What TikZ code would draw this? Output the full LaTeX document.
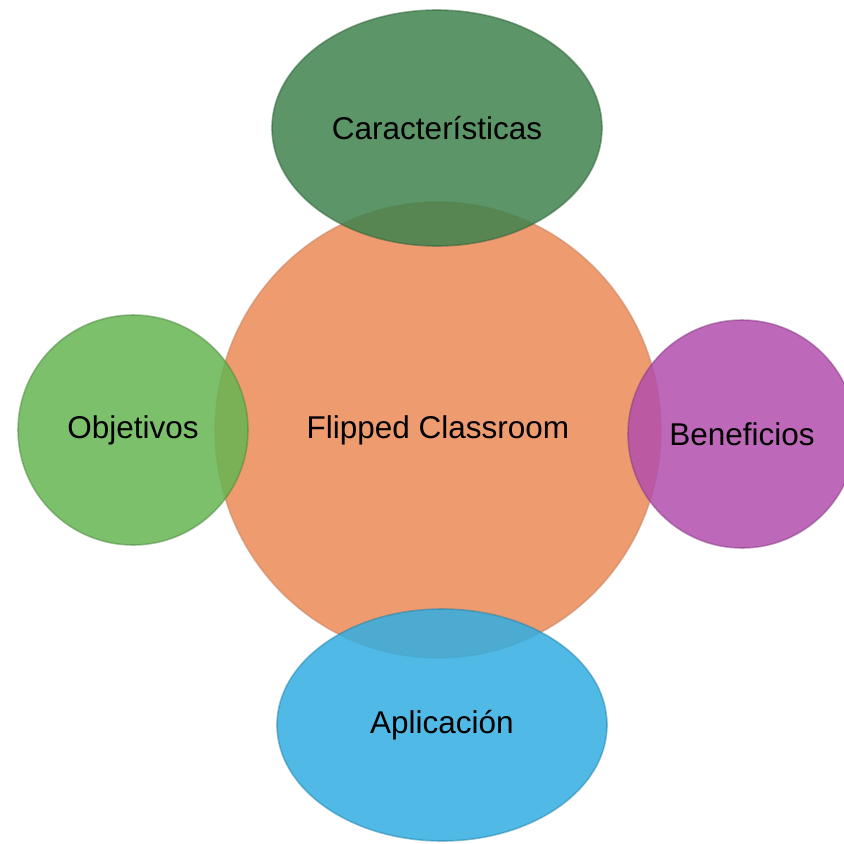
\documentclass[tikz,border=0pt]{standalone}
\usepackage{fontspec}
\setmainfont{Liberation Sans}
\usetikzlibrary{shapes.geometric}
\definecolor{corange}{HTML}{EE9B70}
\definecolor{cdgreen}{HTML}{3E834D}
\definecolor{clgreen}{HTML}{66B552}
\definecolor{cpurple}{HTML}{B34EAD}
\definecolor{cblue}{HTML}{31ADE1}
\tikzset{
  bubble/.style={ellipse, inner sep=0pt, font=\fontsize{31.5}{36}\selectfont, text=black, text opacity=1, line width=1.6pt},
  hub/.style={bubble, fill=#1, draw=#1!80!black, draw opacity=0.45},
  leaf/.style={bubble, fill=#1, fill opacity=0.85, draw=#1!75!black, draw opacity=0.5}
}
\begin{document}
\begin{tikzpicture}[x=1pt,y=-1pt]
\useasboundingbox (0,0) rectangle (844,844);
\clip (0,0) rectangle (844,844);
\node[hub=corange, minimum width=446pt, minimum height=456pt] (fc) at (438,430) {Flipped Classroom};
\node[leaf=cdgreen, minimum width=330pt, minimum height=236pt] (car) at (437,128) {Características};
\node[leaf=clgreen, minimum width=230pt, minimum height=230pt] (obj) at (133,430) {Objetivos};
\node[leaf=cpurple, minimum width=228pt, minimum height=228pt] (ben) at (742,434) {Beneficios};
\node[leaf=cblue, minimum width=330pt, minimum height=232pt] (apl) at (442,725) {Aplicación};
\end{tikzpicture}
\end{document}
